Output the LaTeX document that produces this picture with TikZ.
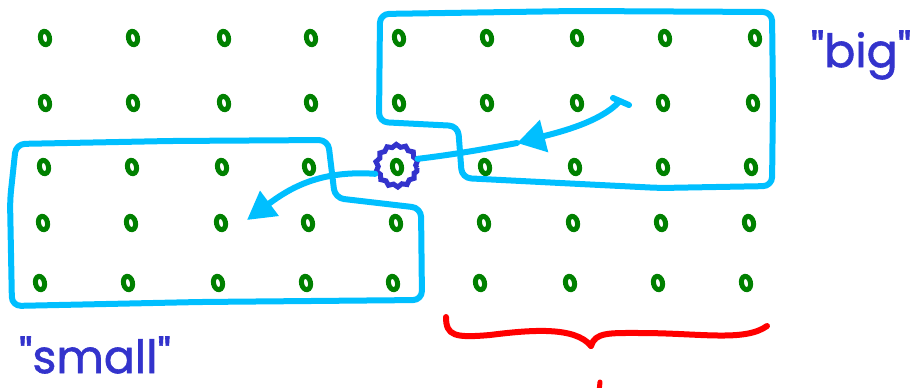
\documentclass[tikz,border=0pt]{standalone}
\usepackage{fontspec}
\setmainfont{Poppins}
\newfontfamily\handfont[FakeBold=1.3]{Poppins}
\usetikzlibrary{shapes.geometric,arrows.meta,decorations.pathmorphing}
\definecolor{dotgreen}{RGB}{0,128,0}
\definecolor{penblue}{RGB}{0,191,255}
\definecolor{inkblue}{RGB}{51,51,204}
\definecolor{inkred}{RGB}{255,0,0}
\begin{document}
\begin{tikzpicture}[x=1pt,y=-1pt,
  gdot/.style={ellipse, draw=dotgreen, line width=5pt, minimum width=9pt, minimum height=13.5pt, inner sep=0pt, rotate=12},
  penline/.style={draw=penblue, line width=6pt, line cap=round, line join=round},
  selring/.style={circle, draw=inkblue, line width=5pt, minimum size=40pt, inner sep=0pt, decorate, decoration={snake, amplitude=1.3pt, segment length=9pt}},
  handtext/.style={text=inkblue, inner sep=0pt, font=\handfont\fontsize{46}{46}\selectfont},
  bracestroke/.style={draw=inkred, line width=6pt, line cap=round, line join=round}]
\useasboundingbox (0,0) rectangle (922,388);
% grid of dots
\foreach \x [count=\c] in {45,133,224,311,399,487,577,665,755} \node[gdot] (d-1-\c) at (\x,38) {};
\foreach \x [count=\c] in {45,133,224,311,399,487,577,663,753} \node[gdot] (d-2-\c) at (\x,103) {};
\foreach \x [count=\c] in {44,132,222,309,397,485,575,663,751} \node[gdot] (d-3-\c) at (\x,167) {};
\foreach \x [count=\c] in {43,131,221,308,396,484,573,661,749} \node[gdot] (d-4-\c) at (\x,223) {};
\foreach \x [count=\c] in {40,128,218,306,393,480,570,658,746} \node[gdot] (d-5-\c) at (\x,283) {};
% selection ring
\node[selring] (sel) at (397,168) {};
% "big" box
\draw[penline, rounded corners=9pt] (380,14) -- (575,11) -- (772,12) -- (773,100) -- (772,186)
  -- (660,188) -- (560,183) -- (462,178) -- (458,126) -- (379,122) -- cycle;
% "small" box
\draw[penline, rounded corners=9pt] (16,144) -- (170,141) -- (328,140) -- (335,198) -- (421,208)
  -- (422,300) -- (200,302) -- (12,306) -- (10,200) -- cycle;
% arrow from big box to ring
\coordinate (a1s) at (619,102);
\coordinate (a1tip) at (517,143);
\draw[penline] (613,98) -- (629,105);
\draw[penline, -{Triangle[length=28pt,width=32pt]}] (a1s) .. controls (600,122) and (560,132) .. (a1tip);
\draw[penline] (a1tip) .. controls (480,150) and (450,155) .. (sel.24);
% arrow from ring to small box
\coordinate (a2tip) at (247,220);
\draw[penline, -{Triangle[length=28pt,width=30pt]}] (sel.195) .. controls (320,170) and (290,188) .. (a2tip);
% labels
\node[handtext] (big) at (861,55) {"big"};
\node[handtext] (small) at (95,355) {"small"};
% red brace
\draw[bracestroke] (446,317) .. controls (446,336) and (455,338) .. (490,335)
  .. controls (530,330) and (575,326) .. (591,346);
\draw[bracestroke] (591,346) .. controls (595,332) and (610,333) .. (640,333)
  .. controls (700,333) and (745,342) .. (767,326);
\draw[bracestroke, line width=5pt] (600,382) -- (599,392);
\end{tikzpicture}
\end{document}
